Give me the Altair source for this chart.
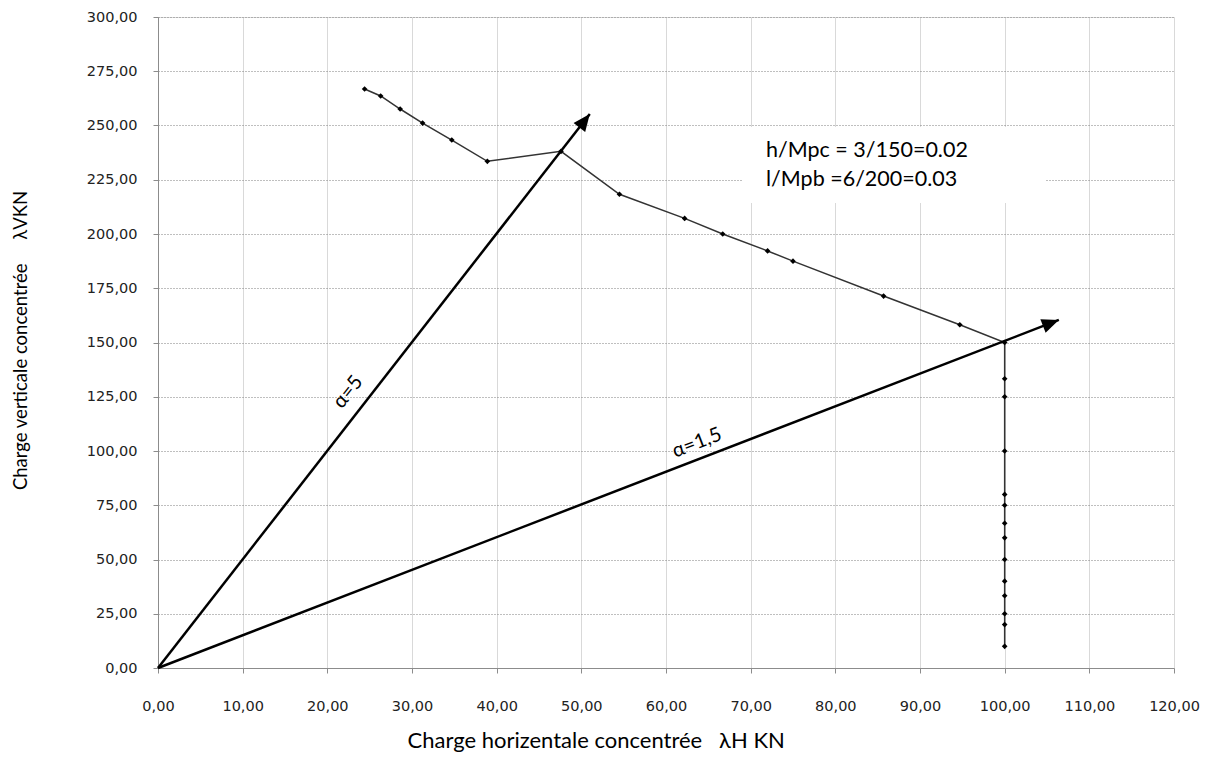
import altair as alt
import pandas as pd

# ---- data ----
curve_H = [24.4, 26.3, 28.6, 31.25, 34.7, 38.9, 47.6, 54.5, 62.2, 66.7, 72.0, 75.0,
           85.7, 94.7, 100, 100, 100, 100, 100, 100, 100, 100, 100, 100, 100, 100, 100, 100]
curve_V = [266.8, 263.6, 257.6, 251.1, 243.3, 233.5, 238.1, 218.3, 207.2, 200.0, 192.2, 187.5,
           171.4, 158.2, 150.0, 133.3, 125.0, 100.0, 80.0, 75.0, 66.7, 60.0, 50.0, 40.0,
           33.3, 25.0, 20.0, 10.0]

arrow_alpha = [5, 1.5]
arrow_labels = ["α=5", "α=1,5"]
arrow_end_H = [51.0, 106.4]
arrow_end_V = [255.3, 160.4]

x_ticks = [0, 10, 20, 30, 40, 50, 60, 70, 80, 90, 100, 110, 120]
y_ticks = [0, 25, 50, 75, 100, 125, 150, 175, 200, 225, 250, 275, 300]

ann_lines = ["h/Mpc = 3/150=0.02", "l/Mpb =6/200=0.03"]

NB = "\u00a0"
x_title = "Charge horizentale concentrée" + NB * 3 + "λH KN"
y_title = "Charge verticale concentrée" + NB * 5 + "λVKN"

# ---- tables ----
curve = pd.DataFrame({"H": curve_H, "V": curve_V, "i": range(len(curve_H))})

label_expr = "replace(format(datum.value, '.2f'), '.', ',')"
TITLE_FONT = "Lato"

xscale = alt.Scale(domain=[0, 120], nice=False, zero=True)
yscale = alt.Scale(domain=[0, 300], nice=False, zero=True)

x_axis = alt.Axis(values=x_ticks, labelExpr=label_expr, title=x_title,
                  grid=True, gridColor="#d9d9d9", gridWidth=1,
                  domainColor="#8c8c8c", tickColor="#8c8c8c", tickSize=5,
                  labelPadding=26, labelFont="DejaVu Sans", labelFontSize=14.5,
                  labelColor="#222222", labelBaseline="top", labelFlush=False,
                  labelOverlap=False,
                  titleFont=TITLE_FONT, titleFontSize=22, titleFontWeight="normal",
                  titleColor="#000000", titleX=249, titleY=72, titleAlign="left",
                  titleBaseline="middle", titleAnchor="start")
y_axis = alt.Axis(values=y_ticks, labelExpr=label_expr, title=y_title,
                  grid=True, gridColor="#7f7f7f", gridDash=[1, 2], gridWidth=1,
                  domainColor="#8c8c8c", tickColor="#8c8c8c", tickSize=5,
                  labelPadding=16, labelFont="DejaVu Sans", labelFontSize=14.5,
                  labelColor="#222222", labelFlush=False, labelOverlap=False,
                  titleFont=TITLE_FONT, titleFontSize=18.5, titleFontWeight="normal",
                  titleColor="#000000", titleX=-138, titleY=323, titleAlign="center",
                  titleBaseline="middle", titleAngle=270, titleAnchor="start")

base_axes = alt.Chart(curve).mark_point(opacity=0).encode(
    x=alt.X("H:Q", scale=xscale, axis=x_axis),
    y=alt.Y("V:Q", scale=yscale, axis=y_axis),
)

# white box behind the annotation
box = alt.Chart(pd.DataFrame({"k": [0]})).mark_rect(color="white").encode(
    x=alt.value(585), x2=alt.value(887), y=alt.value(110), y2=alt.value(186)
)

curve_line = alt.Chart(curve).mark_line(color="#333333", strokeWidth=1.5).encode(
    x=alt.X("H:Q", scale=xscale), y=alt.Y("V:Q", scale=yscale), order="i:Q"
)
curve_pts = alt.Chart(curve).mark_point(shape="diamond", filled=True, color="#000000",
                                        size=32, opacity=1).encode(
    x=alt.X("H:Q", scale=xscale), y=alt.Y("V:Q", scale=yscale)
)

layers = [base_axes, box, curve_line, curve_pts]

head_angles = [37.8, 68.9]
label_pos = [(190, 375, 308), (539, 426, 339)]
for k in range(len(arrow_alpha)):
    seg = pd.DataFrame({"H": [0, arrow_end_H[k]], "V": [0, arrow_end_V[k]],
                        "alpha": [arrow_alpha[k]] * 2})
    layers.append(
        alt.Chart(seg).mark_line(color="#000000", strokeWidth=2.5).encode(
            x=alt.X("H:Q", scale=xscale), y=alt.Y("V:Q", scale=yscale)
        )
    )
    tip = pd.DataFrame({"H": [arrow_end_H[k]], "V": [arrow_end_V[k]]})
    layers.append(
        alt.Chart(tip).mark_point(shape="M0,0L-0.43,1L0.43,1Z", filled=True,
                                  color="#000000", opacity=1, size=1156,
                                  angle=head_angles[k]).encode(
            x=alt.X("H:Q", scale=xscale), y=alt.Y("V:Q", scale=yscale)
        )
    )
    px, py, ang = label_pos[k]
    layers.append(
        alt.Chart(pd.DataFrame({"t": [arrow_labels[k]]})).mark_text(
            font=TITLE_FONT, fontSize=20, color="#000000", angle=ang,
            align="center", baseline="middle").encode(
            x=alt.value(px), y=alt.value(py), text="t:N"
        )
    )

for j, line in enumerate(ann_lines):
    layers.append(
        alt.Chart(pd.DataFrame({"t": [line]})).mark_text(
            font=TITLE_FONT, fontSize=21.5, color="#000000", align="left",
            baseline="alphabetic").encode(
            x=alt.value(608), y=alt.value(140 + 29 * j), text="t:N"
        )
    )

chart = alt.layer(*layers).properties(
    width=1016, height=651, autosize="none",
    padding={"left": 150, "top": 9, "right": 29, "bottom": 88},
).configure_view(stroke=None).configure(background="white")

chart.save("out.html", embed_options={"renderer": "svg", "actions": False})
